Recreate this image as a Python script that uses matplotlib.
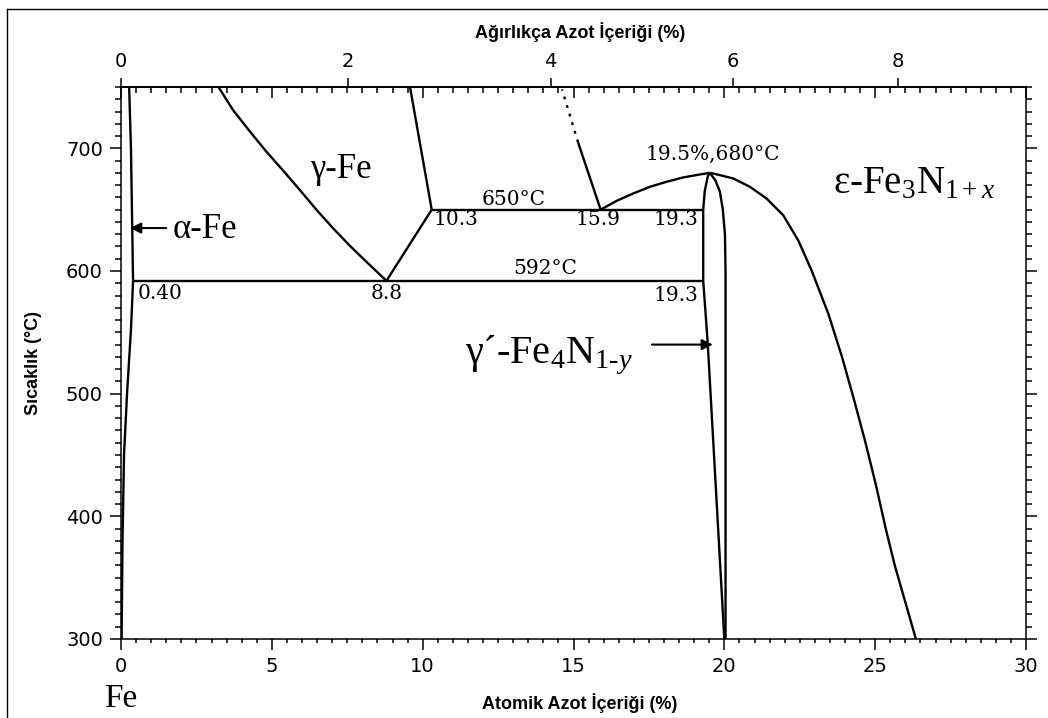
import numpy as np
import matplotlib
matplotlib.use('Agg')
import matplotlib.pyplot as plt
from matplotlib.ticker import MultipleLocator, NullLocator, FixedLocator
from matplotlib.lines import Line2D

plt.rcParams['mathtext.fontset'] = 'custom'
plt.rcParams['mathtext.rm'] = 'Liberation Serif'
plt.rcParams['mathtext.it'] = 'Liberation Serif:italic'

# ---------------- data (atomic % N, temperature °C) ----------------
alpha_hi_x = [0.27, 0.33, 0.40]
alpha_hi_T = [750, 700, 592]
alpha_lo_x = [0.40, 0.33, 0.20, 0.10, 0.05, 0.02]
alpha_lo_T = [592, 552, 500, 450, 380, 300]

gamma_left_x = [3.23, 3.72, 4.28, 4.83, 5.38, 5.93, 6.49, 7.04, 7.59, 8.14, 8.8]
gamma_left_T = [750, 731, 713.5, 697, 681.7, 666, 649.6, 634.6, 620.5, 607.4, 592]

gamma_low_x = [8.8, 10.3]
gamma_low_T = [592, 650]

gamma_right_x = [10.3, 9.58]
gamma_right_T = [650, 750]

iso650_x = [10.3, 19.3]
iso650_T = [650, 650]
iso592_x = [0.40, 19.3]
iso592_T = [592, 592]

eps_left_x = [15.9, 15.15]
eps_left_T = [650, 705]
eps_left_dot_x = [15.15, 14.62]
eps_left_dot_T = [705, 748]

dome_x = [15.9, 16.43, 16.98, 17.53, 18.08, 18.64, 19.19, 19.52]
dome_T = [650, 657.2, 663.2, 668.6, 672.7, 676.3, 678.7, 680]

eps_right_x = [19.52, 19.63, 20.3, 20.85, 21.4, 21.95, 22.45, 22.9, 23.45, 23.9,
               24.3, 24.68, 25.03, 25.35, 25.65, 26.0, 26.35]
eps_right_T = [680, 679.5, 675.4, 668.6, 659.1, 645.5, 625, 600, 565, 530,
               495, 460, 425, 390, 360, 330, 300]

gp_left_x = [19.52, 19.45, 19.35, 19.3, 19.3, 19.45, 20.0]
gp_left_T = [680, 677, 665, 650, 592, 541, 300]
gp_right_x = [19.52, 19.7, 19.85, 19.95, 20.02, 20.04, 20.04]
gp_right_T = [680, 674, 665, 650, 630, 600, 300]

bottom_ticks = [0, 5, 10, 15, 20, 25, 30]
left_ticks = [300, 400, 500, 600, 700]
wt_ticks = [0, 2, 4, 6, 8]

M_N, M_FE = 14.007, 55.845


def at2wt(a):
    a = np.asarray(a, dtype=float)
    return 100 * a * M_N / (a * M_N + (100 - a) * M_FE)


def wt2at(w):
    w = np.asarray(w, dtype=float)
    return 100 * (w / M_N) / (w / M_N + (100 - w) / M_FE)


W, H = 1048, 718
fig = plt.figure(figsize=(W / 100, H / 100), dpi=100)
ax = fig.add_axes([121 / W, 1 - 639 / H, (1026 - 121) / W, (639 - 87) / H])
ax.set_xlim(0, 30)
ax.set_ylim(300, 750)

LW = 1.7
kw = dict(color='black', lw=LW, solid_capstyle='butt', solid_joinstyle='round')
for xs, ts in [(alpha_hi_x, alpha_hi_T), (alpha_lo_x, alpha_lo_T),
               (gamma_left_x, gamma_left_T), (gamma_low_x, gamma_low_T),
               (gamma_right_x, gamma_right_T), (iso650_x, iso650_T),
               (iso592_x, iso592_T), (eps_left_x, eps_left_T),
               (dome_x, dome_T), (eps_right_x, eps_right_T),
               (gp_left_x, gp_left_T), (gp_right_x, gp_right_T)]:
    ax.plot(xs, ts, **kw)
ax.plot(eps_left_dot_x, eps_left_dot_T, color='black', lw=LW, linestyle=(0, (1.2, 2.6)))

# spines & ticks
for s in ax.spines.values():
    s.set_linewidth(1.1)
ax.xaxis.set_major_locator(FixedLocator(bottom_ticks))
ax.xaxis.set_minor_locator(MultipleLocator(0.5))
ax.yaxis.set_major_locator(FixedLocator(left_ticks))
ax.yaxis.set_minor_locator(MultipleLocator(10))
ax.tick_params(axis='x', which='both', direction='out', top=False, bottom=True, width=1.1)
ax.tick_params(axis='x', which='major', length=8, labelsize=14, pad=5)
ax.tick_params(axis='x', which='minor', length=3)
ax.tick_params(axis='y', which='both', direction='out', left=True, right=True,
               labelright=False, width=1.1)
ax.tick_params(axis='y', which='major', length=8, labelsize=14, pad=5)
ax.tick_params(axis='y', which='minor', length=4.3)
for lab in ax.get_xticklabels() + ax.get_yticklabels():
    lab.set_family('DejaVu Sans')

# top inward atomic ticks
top_at = ax.secondary_xaxis('top')
top_at.xaxis.set_major_locator(FixedLocator(bottom_ticks))
top_at.xaxis.set_minor_locator(MultipleLocator(0.5))
top_at.tick_params(axis='x', which='both', direction='in', labeltop=False, width=1.1)
top_at.tick_params(axis='x', which='major', length=8)
top_at.tick_params(axis='x', which='minor', length=4.3)
top_at.spines['top'].set_linewidth(1.1)

# top weight-% axis
top_wt = ax.secondary_xaxis('top', functions=(at2wt, wt2at))
top_wt.xaxis.set_major_locator(FixedLocator(wt_ticks))
top_wt.xaxis.set_minor_locator(NullLocator())
top_wt.tick_params(axis='x', which='major', direction='out', length=6.5, width=1.1,
                   labelsize=14, pad=5)
top_wt.spines['top'].set_linewidth(1.1)

# labels
fig.text(580 / W, 1 - 32 / H, 'Ağırlıkça Azot İçeriği (%)', ha='center', va='center',
         fontsize=13, fontweight='bold', family='Liberation Sans')
fig.text(580 / W, 1 - 703 / H, 'Atomik Azot İçeriği (%)', ha='center', va='center',
         fontsize=13, fontweight='bold', family='Liberation Sans')
fig.text(33 / W, 1 - 363 / H, 'Sıcaklık (°C)', ha='center', va='center', rotation=90,
         fontsize=13, fontweight='bold', family='Liberation Sans')

# in-plot numeric annotations
nkw = dict(fontsize=14.5, family='DejaVu Serif', va='center')
ax.text(13.0, 658.5, '650°C', ha='center', **nkw)
ax.text(10.35, 642, '10.3', ha='left', **nkw)
ax.text(15.05, 642, '15.9', ha='left', **nkw)
ax.text(19.13, 642, '19.3', ha='right', **nkw)
ax.text(14.07, 602, '592°C', ha='center', **nkw)
ax.text(19.13, 580, '19.3', ha='right', **nkw)
ax.text(0.56, 582, '0.40', ha='left', **nkw)
ax.text(8.8, 582, '8.8', ha='center', **nkw)
ax.text(19.6, 695, '19.5%,680°C', ha='center', **nkw)

# phase labels
pkw = dict(family='Liberation Serif', va='baseline')
ax.text(7.3, 675.7, 'γ-Fe', ha='center', fontsize=25, **pkw)
ax.text(1.72, 626.7, 'α-Fe', ha='left', fontsize=25, **pkw)
ax.annotate('', xy=(0.3, 635), xytext=(1.5, 635),
            arrowprops=dict(arrowstyle='-|>', color='black', lw=1.5, mutation_scale=16,
                            shrinkA=0, shrinkB=0))
ax.text(23.6, 663, r'ε-Fe$_3$N$_{1+x}$', ha='left', fontsize=28, **pkw)
ax.text(11.4, 525, r'γ´-Fe$_4$N$_{1\text{-}y}$', ha='left', fontsize=29, **pkw)
ax.annotate('', xy=(19.62, 540), xytext=(17.6, 540),
            arrowprops=dict(arrowstyle='-|>', color='black', lw=1.5, mutation_scale=16,
                            shrinkA=0, shrinkB=0))
ax.text(0, 244.7, 'Fe', ha='center', fontsize=24, clip_on=False, **pkw)

# figure frame (left and top edges)
fig.add_artist(Line2D([7 / W, 7 / W], [0, 1 - 9 / H], transform=fig.transFigure,
                      color='black', lw=1.0))
fig.add_artist(Line2D([7 / W, 1], [1 - 9 / H, 1 - 9 / H], transform=fig.transFigure,
                      color='black', lw=1.0))

fig.savefig('out.png', dpi=100)
